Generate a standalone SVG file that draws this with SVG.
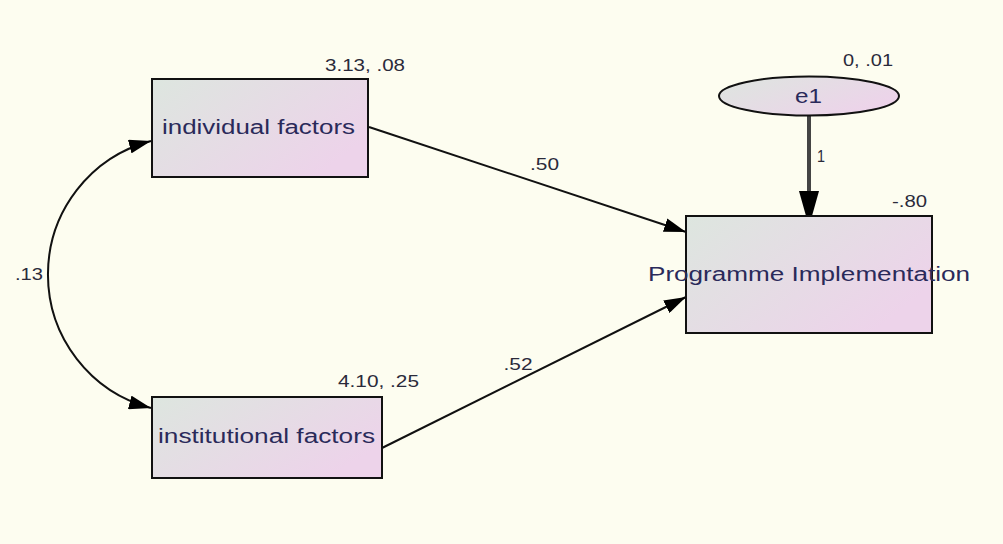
<svg xmlns="http://www.w3.org/2000/svg" width="1003" height="544" viewBox="0 0 1003 544">
<defs>
<linearGradient id="nodeFill" x1="0" y1="0" x2="1" y2="0.6">
<stop offset="0" stop-color="#dde6df"/>
<stop offset="1" stop-color="#edd3ea"/>
</linearGradient>
<marker id="arr" viewBox="0 0 22 14" refX="22" refY="7" markerWidth="22" markerHeight="14" markerUnits="userSpaceOnUse" orient="auto">
<path d="M0,0 L22,7 L0,14 Z" fill="#000"/>
</marker>
<marker id="arrS" viewBox="0 0 22 14" refX="0" refY="7" markerWidth="22" markerHeight="14" markerUnits="userSpaceOnUse" orient="auto">
<path d="M22,0 L0,7 L22,14 Z" fill="#000"/>
</marker>
<marker id="arrB" viewBox="0 0 25 20" refX="25" refY="10" markerWidth="25" markerHeight="20" markerUnits="userSpaceOnUse" orient="auto">
<path d="M0,0 L25,7 L25,13 L0,20 Z" fill="#000"/>
</marker>
</defs>
<style>
.box{fill:url(#nodeFill);stroke:#111;stroke-width:2}
.nt{font-family:"Liberation Sans",Arial,sans-serif;font-size:20px;fill:#2a2a5a;text-anchor:middle}
.lb{font-family:"Liberation Sans",Arial,sans-serif;font-size:16px;fill:#2a2a3a;text-anchor:middle}
.ln{fill:none;stroke:#111;stroke-width:2}
</style>
<rect x="0" y="0" width="1003" height="544" fill="#fdfdf0"/>
<g id="connectors">
<path class="ln" d="M151,141 A138,138 0 0 0 151,408" marker-start="url(#arrS)" marker-end="url(#arr)"/>
<line class="ln" x1="369" y1="127" x2="686" y2="232" marker-end="url(#arr)"/>
<line class="ln" x1="382" y1="448" x2="686" y2="297" marker-end="url(#arr)"/>
<line x1="809" y1="116" x2="809" y2="216" stroke="#444" stroke-width="4" marker-end="url(#arrB)"/>
<text class="lb" x="29" y="280" textLength="28" lengthAdjust="spacingAndGlyphs">.13</text>
<text class="lb" x="544.5" y="170" textLength="29" lengthAdjust="spacingAndGlyphs">.50</text>
<text class="lb" x="518" y="370" textLength="29" lengthAdjust="spacingAndGlyphs">.52</text>
<text class="lb" x="821" y="162" textLength="8" lengthAdjust="spacingAndGlyphs">1</text>
</g>
<g id="individual">
<rect class="box" x="152" y="79" width="216" height="98"/>
<text class="nt" x="258.5" y="134" textLength="193" lengthAdjust="spacingAndGlyphs">individual factors</text>
<text class="lb" x="365" y="71" textLength="80" lengthAdjust="spacingAndGlyphs">3.13, .08</text>
</g>
<g id="institutional">
<rect class="box" x="152" y="397" width="230" height="81"/>
<text class="nt" x="266.5" y="443" textLength="217" lengthAdjust="spacingAndGlyphs">institutional factors</text>
<text class="lb" x="378.5" y="387" textLength="81" lengthAdjust="spacingAndGlyphs">4.10, .25</text>
</g>
<g id="programme">
<rect class="box" x="686" y="216" width="246" height="117"/>
<text class="nt" x="809" y="281" textLength="322" lengthAdjust="spacingAndGlyphs">Programme Implementation</text>
<text class="lb" x="909.5" y="207" textLength="35" lengthAdjust="spacingAndGlyphs">-.80</text>
</g>
<g id="e1">
<ellipse cx="809" cy="96" rx="90" ry="19.5" fill="url(#nodeFill)" stroke="#111" stroke-width="2"/>
<text class="nt" x="808.5" y="103" textLength="27" lengthAdjust="spacingAndGlyphs">e1</text>
<text class="lb" x="868" y="66" textLength="50" lengthAdjust="spacingAndGlyphs">0, .01</text>
</g>
</svg>
